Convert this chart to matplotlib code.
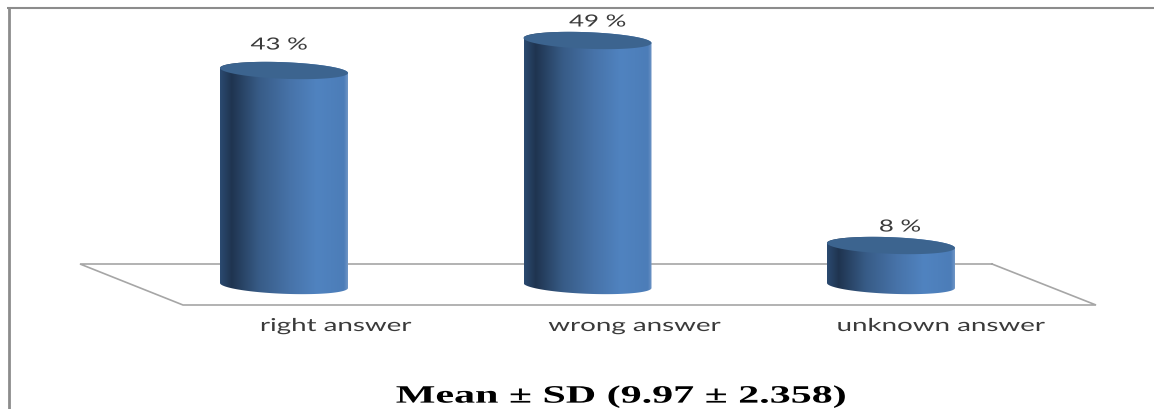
import numpy as np
import matplotlib
matplotlib.use("Agg")
import matplotlib.pyplot as plt
from matplotlib.colors import LinearSegmentedColormap
from matplotlib.patches import Polygon
from matplotlib.patheffects import AbstractPathEffect
from matplotlib.transforms import Affine2D

categories = ["right answer", "wrong answer", "unknown answer"]
percent = [43, 49, 8]
value_labels = ["43 %", "49 %", "8 %"]
title = "Mean \u00b1 SD (9.97 \u00b1 2.358)"

W, H = 1154, 409
PX_PER_PCT = 5.0
BASE_PX = 285.5
SPACING_PX = 303.5
FIRST_PX = 284.0
BAR_W = 128 / SPACING_PX


class Stretch(AbstractPathEffect):
    """Widen text about its own centre (the source image is stretched sideways)."""

    def __init__(self, sx):
        super().__init__()
        self.sx = sx

    def draw_path(self, renderer, gc, tpath, affine, rgbFace=None):
        box = tpath.transformed(affine).get_extents()
        cx = 0.5 * (box.x0 + box.x1)
        new = affine + Affine2D().translate(-cx, 0).scale(self.sx, 1).translate(cx, 0)
        renderer.draw_path(gc, tpath, new, rgbFace)


fig = plt.figure(figsize=(W / 100, H / 100), dpi=100, facecolor="white")
ax = fig.add_axes([0, 0, 1, 1])
ax.axis("off")

px = fig.add_axes([0, 0, 1, 1], zorder=-1)
px.axis("off")
px.set_xlim(0, W)
px.set_ylim(H, 0)
LINE = "#8c8c8c"
px.plot([8.5, 8.5], [6.5, H], color=LINE, lw=2.0, solid_capstyle="butt")
px.plot([7, W], [7.5, 7.5], color=LINE, lw=1.5, solid_capstyle="butt")
px.plot([992, 80, 183, 1096, 992], [264, 264, 305, 305, 264], color="#a6a6a6", lw=1.2,
        solid_joinstyle="miter")

cmap = LinearSegmentedColormap.from_list("cyl", [
    (0.00, "#2b4a70"), (0.09, "#1f3450"), (0.30, "#375b86"),
    (0.55, "#4773a9"), (0.76, "#5083c0"), (0.97, "#4c7db8"), (1.00, "#6f95c6")])
grad = np.linspace(0, 1, 256).reshape(1, -1)

b = 8.3 / PX_PER_PCT
s = 2.5 / PX_PER_PCT
a = BAR_W / 2


def rim(xc, yc, t):
    return np.column_stack([xc + a * np.cos(t), yc + b * np.sin(t) - s * np.cos(t)])


label_dx = [-5.0, 10, 9]
label_gap = [26.0, 19.0, 19.0]
tick_dx = [52, 47, 50]
for i, v in enumerate(percent):
    lower = np.linspace(np.pi, 2 * np.pi, 60)
    upper = np.linspace(0, np.pi, 60)
    body = np.vstack([rim(i, 0, lower), rim(i, v, upper)])
    im = ax.imshow(grad, cmap=cmap, extent=[i - a, i + a, -3, v + 3], aspect="auto",
                   interpolation="bilinear", zorder=2)
    poly = Polygon(body, closed=True, transform=ax.transData, fc="none", ec="none")
    ax.add_patch(poly)
    im.set_clip_path(poly)
    top = Polygon(rim(i, v, np.linspace(0, 2 * np.pi, 120)), closed=True, fc="#3c648f",
                  ec="none", zorder=3)
    ax.add_patch(top)
    ax.text(i + label_dx[i] / SPACING_PX, v + label_gap[i] / PX_PER_PCT, value_labels[i],
            ha="center", va="center", fontsize=12, color="#3a3a3a", family="Lato", zorder=4,
            path_effects=[Stretch(1.55)])
    ax.text(i + tick_dx[i] / SPACING_PX, -40.5 / PX_PER_PCT, categories[i], ha="center",
            va="center", fontsize=12.8, color="#3a3a3a", family="Lato", zorder=4,
            path_effects=[Stretch(1.56)])

ax.set_xlim(-FIRST_PX / SPACING_PX, (W - FIRST_PX) / SPACING_PX)
ax.set_ylim(-(H - BASE_PX) / PX_PER_PCT, BASE_PX / PX_PER_PCT)
fig.text(621 / W, 1 - 396.5 / H, title, ha="center", va="center", fontsize=18, fontweight="bold",
         family="Liberation Serif", color="black", path_effects=[Stretch(1.68)])
fig.savefig("out.png", dpi=100, facecolor="white")
